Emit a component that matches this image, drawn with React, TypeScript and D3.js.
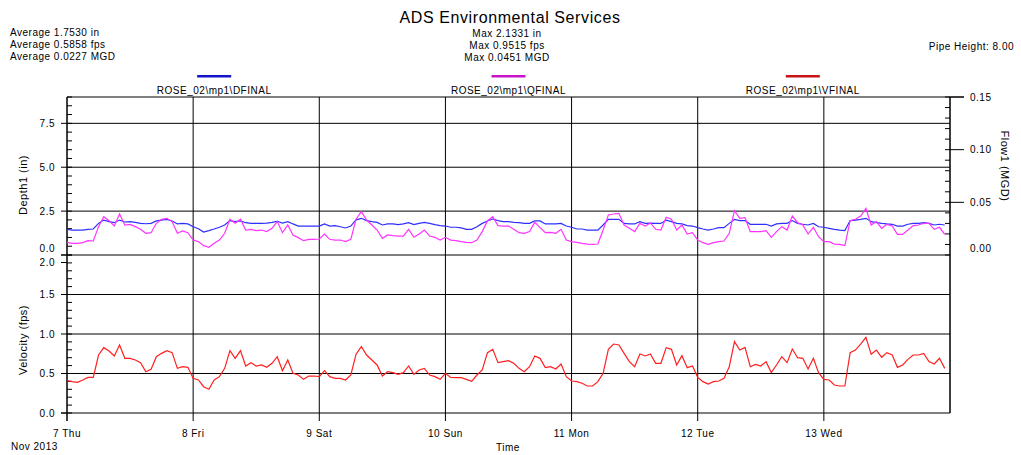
import React from "react";
import * as d3 from "d3";

// hourly readings, 7 Nov 2013 00:00 onwards
const startTime = new Date(2013, 10, 7);
const endTime = new Date(2013, 10, 14);

const depthIn = [
  1.46, 1.42, 1.42, 1.42, 1.46, 1.48, 1.8, 1.99, 1.9, 1.84,
  1.99, 1.88, 1.9, 1.86, 1.8, 1.78, 1.8, 1.94, 1.99, 2.03,
  1.94, 1.77, 1.8, 1.77, 1.61, 1.5, 1.31, 1.39, 1.48, 1.58,
  1.71, 1.96, 1.9, 1.94, 1.84, 1.8, 1.8, 1.8, 1.82, 1.86,
  1.92, 1.82, 1.9, 1.77, 1.65, 1.65, 1.65, 1.65, 1.65, 1.77,
  1.65, 1.67, 1.61, 1.54, 1.65, 2.0, 2.09, 1.96, 1.9, 1.86,
  1.71, 1.77, 1.77, 1.73, 1.77, 1.84, 1.73, 1.8, 1.86, 1.8,
  1.73, 1.67, 1.65, 1.58, 1.58, 1.54, 1.46, 1.46, 1.61, 1.8,
  1.94, 2.05, 1.96, 1.9, 1.9, 1.86, 1.84, 1.8, 1.8, 1.94,
  1.94, 1.77, 1.77, 1.77, 1.8, 1.65, 1.58, 1.48, 1.48, 1.42,
  1.42, 1.42, 1.71, 2.03, 2.03, 2.03, 1.8, 1.77, 1.77, 1.9,
  1.8, 1.82, 1.8, 1.8, 1.99, 1.9, 1.8, 1.77, 1.67, 1.65,
  1.56, 1.48, 1.42, 1.48, 1.56, 1.56, 1.8, 2.03, 1.96, 1.96,
  1.75, 1.75, 1.75, 1.75, 1.65, 1.77, 1.8, 1.8, 1.96, 1.8,
  1.75, 1.71, 1.8, 1.61, 1.58, 1.52, 1.46, 1.42, 1.39, 1.96,
  1.99, 2.03, 2.09, 1.9, 1.84, 1.8, 1.77, 1.75, 1.65, 1.65,
  1.75, 1.8, 1.8, 1.84, 1.8, 1.71, 1.75, 1.71,
];

const flowMgd = [
  0.012, 0.0111, 0.0111, 0.0117, 0.0136, 0.0133, 0.0269, 0.0364, 0.0326, 0.0275,
  0.0389, 0.0285, 0.0291, 0.0269, 0.0244, 0.0206, 0.0212, 0.0301, 0.0339, 0.0348,
  0.0317, 0.0206, 0.0228, 0.0212, 0.0142, 0.0127, 0.0089, 0.0073, 0.0111, 0.0142,
  0.0206, 0.0339, 0.0301, 0.0339, 0.0237, 0.0244, 0.0231, 0.0237, 0.0222, 0.0253,
  0.0317, 0.0212, 0.0285, 0.019, 0.0165, 0.0136, 0.0149, 0.0149, 0.0152, 0.0199,
  0.0149, 0.0142, 0.0142, 0.0127, 0.0149, 0.034, 0.0412, 0.0332, 0.0285, 0.0237,
  0.0158, 0.019, 0.0184, 0.018, 0.018, 0.0244, 0.0168, 0.0199, 0.0237, 0.018,
  0.0168, 0.0142, 0.0168, 0.0142, 0.0136, 0.0127, 0.012, 0.0117, 0.0142, 0.0222,
  0.0326, 0.0364, 0.0279, 0.0275, 0.0275, 0.0244, 0.0212, 0.0206, 0.0222, 0.031,
  0.026, 0.0212, 0.0215, 0.0206, 0.0244, 0.0142, 0.0127, 0.012, 0.0111, 0.0104,
  0.0101, 0.0104, 0.0237, 0.038, 0.0389, 0.0396, 0.0285, 0.0253, 0.0222, 0.0301,
  0.0275, 0.0304, 0.0244, 0.0237, 0.0358, 0.0339, 0.0237, 0.0285, 0.0199, 0.0212,
  0.0142, 0.0117, 0.0101, 0.0117, 0.0127, 0.0133, 0.0206, 0.0421, 0.0348, 0.0355,
  0.0222, 0.0222, 0.0222, 0.0231, 0.0168, 0.0222, 0.0269, 0.0237, 0.037, 0.0307,
  0.0285, 0.0199, 0.0263, 0.0174, 0.0127, 0.0127, 0.0104, 0.0101, 0.0089, 0.0326,
  0.0339, 0.037, 0.0443, 0.0285, 0.0317, 0.0253, 0.0291, 0.0275, 0.0196, 0.0196,
  0.0237, 0.0279, 0.0285, 0.0301, 0.0301, 0.0244, 0.0263, 0.0196,
];

const velocityFps = [
  0.409, 0.397, 0.388, 0.418, 0.451, 0.451, 0.734, 0.827, 0.785, 0.722,
  0.861, 0.692, 0.692, 0.671, 0.637, 0.523, 0.553, 0.713, 0.755, 0.789,
  0.764, 0.565, 0.586, 0.578, 0.439, 0.418, 0.333, 0.3, 0.418, 0.46,
  0.565, 0.789, 0.692, 0.789, 0.595, 0.637, 0.595, 0.608, 0.578, 0.629,
  0.713, 0.536, 0.671, 0.502, 0.481, 0.426, 0.468, 0.468, 0.46, 0.536,
  0.46, 0.439, 0.439, 0.418, 0.481, 0.745, 0.84, 0.734, 0.671, 0.608,
  0.468, 0.523, 0.511, 0.489, 0.511, 0.595, 0.489, 0.544, 0.565, 0.481,
  0.46, 0.426, 0.502, 0.451, 0.447, 0.447, 0.426, 0.401, 0.481, 0.544,
  0.764, 0.806, 0.637, 0.65, 0.662, 0.629, 0.565, 0.523, 0.586, 0.722,
  0.692, 0.574, 0.586, 0.557, 0.62, 0.46, 0.405, 0.397, 0.376, 0.342,
  0.342, 0.397, 0.502, 0.806, 0.873, 0.861, 0.755, 0.65, 0.586, 0.747,
  0.722, 0.747, 0.629, 0.629, 0.827, 0.806, 0.608, 0.726, 0.574, 0.595,
  0.451, 0.397, 0.367, 0.397, 0.405, 0.439, 0.586, 0.903, 0.797, 0.831,
  0.586, 0.616, 0.595, 0.65, 0.511, 0.608, 0.713, 0.637, 0.81, 0.7,
  0.692, 0.557, 0.692, 0.511, 0.426, 0.418, 0.354, 0.342, 0.342, 0.764,
  0.797, 0.873, 0.958, 0.743, 0.797, 0.705, 0.764, 0.734, 0.578, 0.608,
  0.679, 0.734, 0.734, 0.755, 0.65, 0.62, 0.692, 0.565,
];

const depthTicks = [0, 2.5, 5, 7.5];
const flowTicks = [0, 0.05, 0.1, 0.15];
const velocityTicks = [0, 0.5, 1, 1.5, 2];

const statsLeft = ["Average 1.7530 in", "Average 0.5858 fps", "Average 0.0227 MGD"];
const statsMid = ["Max 2.1331 in", "Max 0.9515 fps", "Max 0.0451 MGD"];
const legendNames = ["ROSE_02\\mp1\\DFINAL", "ROSE_02\\mp1\\QFINAL", "ROSE_02\\mp1\\VFINAL"];
const legendColors = ["#1414c8", "#c814c8", "#c81414"];

const FONT = "'Liberation Sans', Arial, sans-serif";

export default function App() {
  const W = 1021, H = 455;
  const L = 67, R = 950, T = 97, MID = 255, B = 413;

  const x = d3.scaleTime().domain([startTime, endTime]).range([L, R]);
  const yD = d3.scaleLinear().domain([0, 9]).range([MID, T]);
  const yQ = d3.scaleLinear().domain([0, 0.15]).range([MID, T]);
  const yV = d3.scaleLinear().domain([0, 2]).range([B, MID]);

  const t = (i: number) => d3.timeHour.offset(startTime, i);
  const lineOf = (y: d3.ScaleLinear<number, number>) =>
    d3.line<number>().x((_, i) => x(t(i))).y((d) => y(d));

  const days = x.ticks(d3.timeDay.every(1)!);
  const fmtDay = d3.timeFormat("%-d %a");

  const txt = { fontFamily: FONT, fontSize: 10, letterSpacing: 0.5, fill: "#000" } as const;

  return (
    <svg width={W} height={H} style={{ position: "absolute", left: 0, top: 0, background: "#fff" }}>
      {/* header */}
      <text x={510} y={22.5} textAnchor="middle" style={{ ...txt, fontSize: 16, letterSpacing: 0.6 }}>
        ADS Environmental Services
      </text>
      {statsLeft.map((s, i) => (
        <text key={s} x={10} y={36 + i * 12} style={txt}>{s}</text>
      ))}
      {statsMid.map((s, i) => (
        <text key={s} x={507} y={36.5 + i * 12} textAnchor="middle" style={txt}>{s}</text>
      ))}
      <text x={1014} y={50} textAnchor="end" style={txt}>Pipe Height: 8.00</text>

      {/* legend */}
      {legendNames.map((n, i) => {
        const cx = L + ((R - L) * (2 * i + 1)) / 6;
        return (
          <g key={n}>
            <line x1={cx - 17} x2={cx + 17} y1={76.3} y2={76.3} stroke={legendColors[i]} strokeWidth={2.5} />
            <text x={cx} y={94.3} textAnchor="middle" style={txt}>{n}</text>
          </g>
        );
      })}

      {/* grid */}
      {depthTicks.filter((d) => d > 0).map((d) => (
        <line key={"gd" + d} x1={L} x2={R} y1={yD(d)} y2={yD(d)} stroke="#000" />
      ))}
      {velocityTicks.filter((d) => d > 0 && d < 2).map((d) => (
        <line key={"gv" + d} x1={L} x2={R} y1={yV(d)} y2={yV(d)} stroke="#000" />
      ))}
      {days.map((d, i) => (
        <line key={"vd" + i} x1={x(d)} x2={x(d)} y1={T} y2={i < days.length - 1 ? B + 8 : B} stroke="#000" />
      ))}

      {/* frame */}
      <line x1={L} x2={R + 14} y1={T} y2={T} stroke="#000" />
      <line x1={L - 6} x2={R} y1={MID} y2={MID} stroke="#000" />
      <line x1={L - 6} x2={R} y1={B} y2={B} stroke="#000" />
      <line x1={R} x2={R} y1={T} y2={B} stroke="#000" />

      {/* left depth axis */}
      {yD.ticks(18).map((d) => (
        <line key={"md" + d} x1={L} x2={L + 5} y1={yD(d)} y2={yD(d)} stroke="#000" />
      ))}
      {depthTicks.map((d) => (
        <g key={"ld" + d}>
          <line x1={L - 6} x2={L} y1={yD(d)} y2={yD(d)} stroke="#000" />
          <text x={55} y={d === 0 ? yD(d) - 7 : yD(d)} dy="0.35em" textAnchor="end" style={txt}>
            {d.toFixed(1)}
          </text>
        </g>
      ))}

      {/* right flow axis */}
      {yQ.ticks(15).map((d) => (
        <line key={"mq" + d} x1={R - 5} x2={R} y1={yQ(d)} y2={yQ(d)} stroke="#000" />
      ))}
      {flowTicks.map((d) => (
        <g key={"lq" + d}>
          {d > 0 && <line x1={R} x2={R + 14} y1={yQ(d)} y2={yQ(d)} stroke="#000" />}
          <text x={970} y={d === 0 ? yQ(d) - 7 : yQ(d)} dy="0.35em" style={txt}>
            {d.toFixed(2)}
          </text>
        </g>
      ))}

      {/* velocity axis */}
      {yV.ticks(20).map((d) => (
        <line key={"mv" + d} x1={L} x2={L + 5} y1={yV(d)} y2={yV(d)} stroke="#000" />
      ))}
      {velocityTicks.map((d) => (
        <g key={"lv" + d}>
          <line x1={L - 6} x2={L} y1={d === 2 ? yV(d) + 7.5 : yV(d)} y2={d === 2 ? yV(d) + 7.5 : yV(d)} stroke="#000" />
          <text x={55} y={d === 2 ? yV(d) + 7.5 : yV(d)} dy="0.35em" textAnchor="end" style={txt}>
            {d.toFixed(1)}
          </text>
        </g>
      ))}
      <line x1={L} x2={L} y1={T} y2={B + 8} stroke="#000" />

      {/* axis titles */}
      <text transform="translate(27,185) rotate(-90)" textAnchor="middle" style={{ ...txt, fontSize: 11 }}>
        Depth1 (in)
      </text>
      <text transform="translate(27,340) rotate(-90)" textAnchor="middle" style={{ ...txt, fontSize: 11 }}>
        Velocity (fps)
      </text>
      <text transform="translate(1001,166) rotate(90)" textAnchor="middle" style={{ ...txt, fontSize: 11 }}>
        Flow1 (MGD)
      </text>

      {/* x axis labels */}
      {days.slice(0, -1).map((d, i) => (
        <text key={"xl" + i} x={x(d)} y={436.5} textAnchor="middle" style={txt}>{fmtDay(d)}</text>
      ))}
      <text x={11} y={450} style={txt}>Nov 2013</text>
      <text x={508} y={451} textAnchor="middle" style={txt}>Time</text>

      {/* series */}
      <path d={lineOf(yD)(depthIn) ?? ""} fill="none" stroke="#2f2fff" strokeWidth={1.2} />
      <path d={lineOf(yQ)(flowMgd) ?? ""} fill="none" stroke="#ff33ff" strokeWidth={1.2} />
      <path d={lineOf(yV)(velocityFps) ?? ""} fill="none" stroke="#ff1f1f" strokeWidth={1.2} />
    </svg>
  );
}
